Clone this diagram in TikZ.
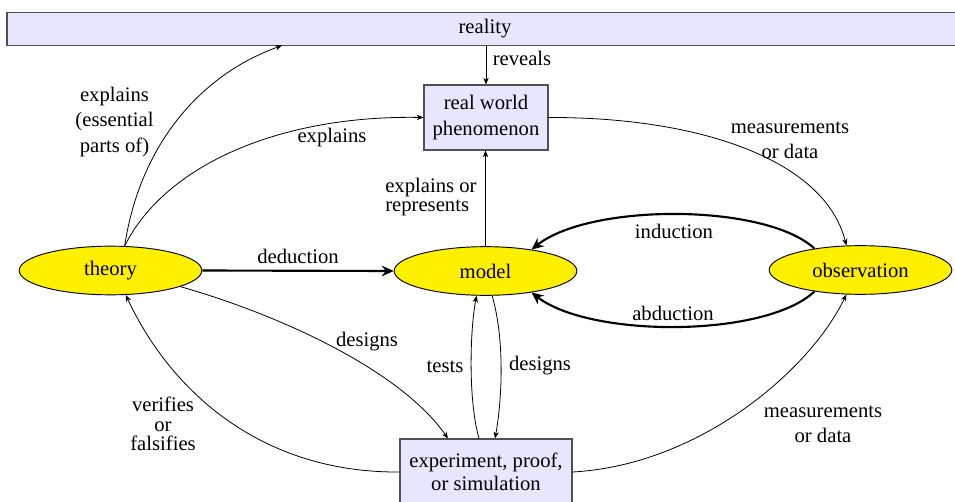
\documentclass[tikz,border=0pt]{standalone}
\usepackage{fontspec}
\setmainfont{Liberation Serif}
\usetikzlibrary{arrows.meta,shapes.geometric}
\definecolor{boxfill}{RGB}{230,230,255}
\definecolor{boxline}{RGB}{80,80,80}
\definecolor{ellfill}{RGB}{255,240,0}
\begin{document}
\begin{tikzpicture}[x=0.75pt,y=-0.75pt, font=\fontsize{15.5}{19}\selectfont,
 box/.style={draw=boxline, fill=boxfill, line width=0.8pt, align=center, inner sep=0pt},
 ell/.style={ellipse, draw=black, fill=ellfill, line width=0.7pt, minimum width=137pt, minimum height=36.5pt, inner sep=0pt},
 conn/.style={line width=0.6pt, -{Stealth[length=5pt,width=4pt,inset=1.5pt]}},
 bigconn/.style={line width=1.6pt, -{Stealth[length=9pt,width=8pt,inset=3pt]}},
 lbl/.style={inner sep=0pt, align=center}]
\useasboundingbox (0,0) rectangle (955,502);
\clip (0,0) rectangle (955,502);

% nodes
\node[box, minimum width=717pt, minimum height=24.75pt] (reality) at (485,29) {reality};
\node[box, minimum width=93pt, minimum height=48.75pt] (world) at (486,117.5) {real world\\phenomenon};
\node[ell] (theory) at (110.5,270.5) {theory};
\node[ell] (model) at (485.5,271) {model};
\node[ell] (obs) at (860.5,270) {observation};
\node[box, minimum width=129pt, minimum height=49.5pt, font=\fontsize{15.5}{17.5}\selectfont] (exp) at (486,472) {experiment, proof,\\or simulation};
\coordinate (rtgt) at (282,45.5);

% connectors
\draw[conn] (theory.60) .. controls (140,145) and (200,75) .. (rtgt);
\draw[conn] (theory.60) .. controls (165,165) and (280,115) .. (world.west);
\draw[bigconn] (theory.east) -- (model.west);
\draw[conn] (reality.south -| world.north) -- (world.north);
\draw[conn] (model.north) -- (model.north |- world.south);
\draw[conn] (world.east) .. controls (700,117) and (825,160) .. (obs.120);
\draw[bigconn] (obs.155) .. controls (765,203) and (590,203) .. (model.25);
\draw[bigconn] (obs.205) .. controls (765,338) and (590,338) .. (model.335);
\draw[conn] (theory.-13) .. controls (280,315) and (400,370) .. ([xshift=-28.5pt]exp.north);
\draw[conn] (exp.west) .. controls (260,473) and (170,390) .. (theory.-58);
\draw[conn] ([xshift=-5.25pt]exp.north) .. controls (468,400) and (470,330) .. (model.-110);
\draw[conn] (model.-75) .. controls (505,340) and (502,400) .. ([xshift=6.75pt]exp.north);
\draw[conn] (exp.east) .. controls (700,465) and (810,370) .. (obs.-120);

% labels
\node[lbl] (l1) at (114.5,122) {explains\\(essential\\parts of)};
\node[lbl] (l2) at (332,138) {explains};
\node[lbl] (l3) at (298,256) {deduction};
\node[lbl, anchor=west, align=left, font=\fontsize{15.5}{14.25}\selectfont] (l4) at (385,197.5) {explains or\\represents};
\node[lbl] (l5) at (522,58) {reveals};
\node[lbl] (l6) at (790,140) {measurements\\or data};
\node[lbl] (l7) at (674,231) {induction};
\node[lbl] (l8) at (673,313) {abduction};
\node[lbl] (l9) at (367,342) {designs};
\node[lbl] (l10) at (445,367) {tests};
\node[lbl] (l11) at (540,366) {designs};
\node[lbl, font=\fontsize{15.5}{14.5}\selectfont] (l12) at (163,424) {verifies\\or\\falsifies};
\node[lbl] (l13) at (823,424.5) {measurements\\or data};
\end{tikzpicture}
\end{document}
